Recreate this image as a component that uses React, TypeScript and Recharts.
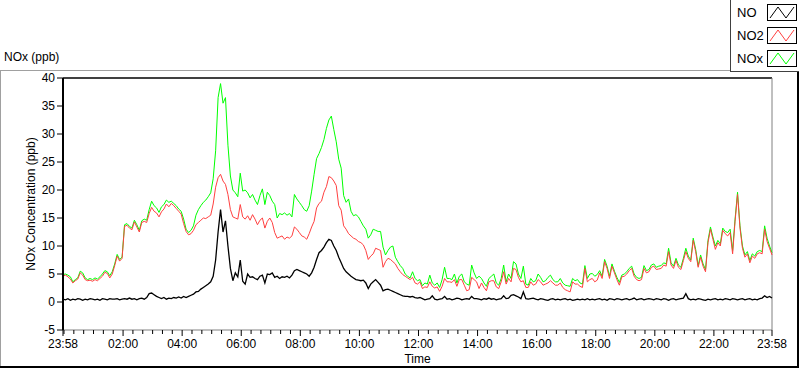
import { LineChart, Line, XAxis, YAxis, ReferenceLine } from "recharts";

// minutes after 23:58, one value every 5 min (12 per row = 1 hour)
const STEP_MIN = 5;

const noValues = [
  0.5, 0.4, 0.6, 0.3, 0.5, 0.4, 0.6, 0.5, 0.3, 0.5, 0.4, 0.6,
  0.5, 0.4, 0.5, 0.3, 0.6, 0.5, 0.4, 0.6, 0.5, 0.5, 0.6, 0.4,
  0.5, 0.6, 0.5, 0.7, 0.5, 0.6, 0.4, 0.6, 0.7, 0.5, 0.8, 1.5,
  1.6, 1.3, 1.0, 0.8, 0.6, 0.8, 0.5, 0.7, 0.6, 0.8, 0.7, 0.9,
  0.7, 1.0, 0.8, 1.0, 1.2, 1.4, 1.8, 1.9, 2.3, 2.6, 2.9, 3.2,
  3.6, 4.6, 7.5, 12.5, 16.5, 12.5, 14.5, 10.0, 6.0, 3.8, 5.2, 4.5,
  7.5, 3.7, 3.2, 5.0, 4.4, 4.5, 4.2, 4.0, 4.6, 4.8, 3.4, 5.0,
  4.9, 5.2, 4.4, 4.6, 4.2, 4.5, 4.4, 4.6, 4.3, 4.8, 5.6, 5.8,
  5.6, 5.4, 5.2, 5.0, 4.6, 5.2, 6.2, 7.6, 8.8, 9.2, 9.8, 10.6,
  11.2, 11.0, 10.0, 9.2, 8.0, 7.0, 6.0, 5.4, 5.0, 4.6, 4.3, 4.0,
  3.9, 3.8, 3.9, 3.4, 2.4, 3.2, 3.6, 4.0, 3.5, 3.0, 2.0, 2.2,
  2.3, 2.1, 1.9, 1.7, 1.5, 1.3, 1.1, 1.0, 1.0, 0.9, 1.0, 0.8,
  0.7, 0.8, 0.6, 0.4, 0.5, 0.6, 1.1, 0.5, 0.4, 0.5, 0.6, 1.0,
  0.5, 0.6, 0.4, 0.5, 0.7, 0.6, 0.4, 0.5, 0.6, 0.5, 1.0, 0.6,
  0.6, 0.5, 0.4, 0.6, 0.5, 0.7, 0.5, 0.6, 0.4, 0.5, 0.6, 1.1,
  0.6, 0.7, 1.2, 1.3, 1.1, 0.9, 0.6, 1.8, 0.6, 0.5, 0.6, 0.7,
  0.5, 0.4, 0.6, 0.5, 0.4, 0.3, 0.5, 0.6, 0.4, 0.5, 0.4, 0.5,
  0.6, 0.4, 0.5, 0.3, 0.4, 0.5, 0.4, 0.5, 0.4, 0.6, 0.4, 0.5,
  0.4, 0.5, 0.6, 0.4, 0.5, 0.3, 0.6, 0.5, 0.4, 0.6, 0.5, 0.4,
  0.5, 0.6, 0.4, 0.5, 0.7, 0.4, 0.5, 0.6, 0.4, 0.5, 0.6, 0.5,
  0.4, 0.6, 0.5, 0.4, 0.6, 0.5, 0.3, 0.5, 0.6, 0.4, 0.5, 0.6,
  0.7, 1.5, 0.6, 0.4, 0.5, 0.4, 0.6, 0.5, 0.4, 0.3, 0.5, 0.4,
  0.5, 0.6, 0.4, 0.5, 0.4, 0.6, 0.5, 0.4, 0.6, 0.5, 0.4, 0.5,
  0.6, 0.4, 0.5, 0.6, 0.4, 0.5, 0.4, 0.6, 0.7, 1.1, 0.8, 1.0,
  0.7,
];

const no2Values = [
  4.6, 4.8, 4.5, 4.1, 3.4, 3.8, 4.1, 5.2, 4.8, 4.0, 3.8, 3.9,
  3.7, 4.0, 3.8, 4.2, 4.6, 5.3, 5.1, 4.3, 5.0, 6.5, 8.2, 7.3,
  7.8, 13.5, 13.7, 13.2, 12.9, 14.3, 13.4, 12.5, 14.2, 14.4, 14.2, 15.8,
  16.9, 16.2, 15.9, 15.2, 16.1, 16.6, 17.5, 17.0, 17.6, 17.2, 16.7, 16.2,
  15.7, 14.0, 12.6, 12.0, 12.2, 12.8, 13.8, 14.2, 14.6, 15.0, 14.9, 15.2,
  15.5, 17.5, 20.5, 22.2, 22.8, 21.6, 21.0, 19.2, 16.5, 15.2, 15.0, 14.8,
  17.4, 15.2, 14.8, 15.4, 14.6, 15.6, 14.8, 13.8, 14.6, 15.0, 13.2, 14.4,
  15.0, 14.2, 12.4, 11.4, 11.6, 11.8, 11.2, 11.6, 11.4, 11.8, 13.4, 13.0,
  12.4, 11.8, 11.6, 11.2, 12.2, 13.4, 14.4, 16.8, 17.6, 18.0, 19.6, 20.6,
  22.4, 22.2, 21.6, 20.8, 17.2, 16.4, 13.6, 13.0, 12.2, 11.8, 11.4, 11.2,
  10.8, 10.6, 10.2, 9.2, 7.6, 8.2, 8.6, 9.6, 9.4, 9.2, 6.2, 7.2,
  7.8, 7.6, 7.2, 6.8, 6.0, 5.4, 4.9, 4.6, 4.3, 4.0, 4.4, 3.4,
  3.2, 3.6, 2.4, 2.7, 2.6, 3.6, 2.8, 2.5, 2.7, 1.9, 2.8, 4.2,
  3.6, 3.6, 3.5, 4.0, 2.8, 4.0, 4.0, 3.0, 2.0, 2.2, 4.4, 4.0,
  3.6, 2.4, 3.4, 2.6, 2.0, 3.6, 3.8, 3.8, 2.7, 2.4, 3.6, 5.4,
  3.2, 4.2, 3.6, 6.0, 5.8, 4.4, 3.6, 3.8, 2.6, 2.6, 3.6, 3.0,
  3.2, 4.0, 3.6, 3.0, 3.2, 3.4, 3.8, 3.4, 3.0, 3.0, 3.4, 2.6,
  2.2, 2.0, 1.8, 3.6, 3.2, 3.2, 2.8, 2.6, 6.0, 3.6, 4.0, 4.2,
  3.6, 3.9, 5.2, 4.2, 7.2, 6.0, 4.2, 6.4, 5.2, 4.0, 3.0, 4.5,
  4.6, 5.0, 5.6, 6.0, 4.6, 4.0, 3.8, 4.0, 6.0, 5.2, 5.4, 6.2,
  6.4, 5.8, 5.9, 6.0, 6.6, 6.4, 9.0, 6.6, 6.0, 7.4, 6.2, 5.8,
  7.4, 9.0, 7.8, 7.2, 11.0, 9.0, 6.2, 8.0, 6.4, 5.4, 10.6, 13.0,
  11.2, 9.4, 10.6, 10.0, 12.8, 12.2, 11.8, 12.4, 8.6, 14.4, 19.2, 13.2,
  9.6, 8.0, 8.6, 7.0, 8.2, 7.8, 8.6, 8.8, 8.6, 13.0, 10.8, 9.6,
  8.4,
];

const noxValues = [
  4.9, 5.0, 4.8, 4.5, 3.6, 4.0, 4.3, 5.5, 5.2, 4.3, 4.0, 4.2,
  4.0, 4.3, 4.1, 4.5, 5.0, 5.6, 5.4, 4.7, 5.4, 6.8, 8.5, 7.6,
  8.0, 13.8, 14.0, 13.5, 13.2, 14.6, 13.8, 12.8, 14.5, 14.8, 14.6, 16.5,
  18.0, 17.2, 16.8, 16.0, 17.0, 17.4, 18.2, 17.8, 18.0, 17.6, 17.2, 16.6,
  16.2, 14.8, 13.0, 12.4, 12.8, 13.6, 15.5, 16.5, 17.2, 17.8, 18.2, 18.8,
  19.5, 22.0, 27.0, 36.5, 39.0, 35.5, 36.5, 28.0, 22.5, 20.0, 19.5, 18.8,
  23.0, 19.8, 20.0, 19.5, 18.6, 19.2, 18.2, 17.4, 19.0, 20.2, 17.4, 19.6,
  19.0, 18.0, 17.4, 15.0, 15.8, 15.6, 15.9, 15.5, 15.8, 15.2, 19.2, 18.4,
  17.8, 17.2, 16.5, 16.2, 17.2, 19.8, 22.8, 25.6, 26.5, 27.6, 29.0, 31.0,
  32.5, 33.2, 30.8, 28.6, 25.5, 23.9, 19.0, 17.8, 18.4, 16.2, 15.4, 15.6,
  15.2, 14.4, 13.6, 13.0, 11.4, 12.0, 13.0, 12.8, 12.6, 12.6, 9.8, 8.4,
  9.2, 9.8, 10.0, 8.0, 7.2, 6.5, 6.0, 5.0, 4.6, 4.3, 5.4, 4.2,
  3.8, 4.0, 2.9, 3.4, 3.2, 4.8, 3.4, 3.0, 3.4, 2.6, 4.0, 6.2,
  4.2, 4.2, 4.0, 5.0, 3.4, 4.6, 5.0, 3.6, 3.2, 3.0, 6.6, 5.2,
  4.2, 4.6, 4.2, 3.4, 2.8, 4.2, 4.6, 5.0, 3.4, 3.0, 4.2, 6.6,
  3.6, 5.0, 4.2, 7.2, 6.8, 5.0, 4.2, 6.4, 3.2, 3.0, 4.2, 3.6,
  3.8, 5.0, 4.4, 3.6, 3.8, 4.4, 4.8, 4.0, 3.6, 3.6, 4.2, 3.4,
  3.0, 2.9, 2.8, 4.2, 3.8, 4.0, 3.4, 3.2, 6.5, 4.2, 5.0, 5.1,
  4.6, 4.9, 5.6, 4.6, 7.6, 6.4, 4.6, 6.8, 5.5, 4.4, 3.5, 4.8,
  5.0, 5.4, 6.0, 6.4, 5.0, 4.4, 4.2, 4.4, 6.5, 5.6, 5.8, 6.6,
  6.8, 6.2, 6.4, 6.5, 7.0, 6.8, 9.6, 7.0, 6.4, 7.8, 6.6, 6.2,
  7.8, 9.6, 8.2, 7.5, 11.4, 9.4, 6.5, 8.4, 6.8, 5.8, 11.0, 13.4,
  11.6, 10.0, 11.0, 10.4, 13.2, 12.6, 12.4, 13.0, 9.2, 14.8, 19.6, 13.6,
  10.0, 8.4, 9.0, 7.4, 8.6, 8.2, 9.0, 9.2, 9.0, 13.6, 11.4, 10.0,
  8.8,
];

const majorTicks = [0, 122, 242, 362, 482, 602, 722, 842, 962, 1082, 1202, 1322, 1440];
const majorLabels = ["23:58", "02:00", "04:00", "06:00", "08:00", "10:00", "12:00", "14:00", "16:00", "18:00", "20:00", "22:00", "23:58"];
const yTicks = [-5, 0, 5, 10, 15, 20, 25, 30, 35, 40];

const seriesNames = ["NO", "NO2", "NOx"];
const seriesColors = ["#000000", "#ff4040", "#00ff00"];

// minor ticks every 20 min on the clock (00:00 is 2 min after start)
const minorTicks: number[] = [];
for (let t = 2; t < 1440; t += 20) minorTicks.push(t);
const allTicks = Array.from(new Set([...majorTicks, ...minorTicks])).sort((a, b) => a - b);

const data = noValues.map((v, i) => ({
  t: i * STEP_MIN,
  NO: v,
  NO2: no2Values[i],
  NOx: noxValues[i],
}));

const FONT = "'Liberation Sans', Arial, sans-serif";

const XTick = ({ x, y, payload }: any) => {
  const idx = majorTicks.indexOf(payload.value);
  const major = idx >= 0;
  return (
    <g>
      <line x1={x} x2={x} y1={y} y2={y + (major ? 6 : 4)} stroke="#000" strokeWidth={1} />
      {major && (
        <text x={x} y={y + 18} textAnchor="middle" fontSize={12} fontFamily={FONT} fill="#000">
          {majorLabels[idx]}
        </text>
      )}
    </g>
  );
};

function LegendBox() {
  return (
    <div
      style={{
        position: "absolute",
        left: 730,
        top: 0,
        width: 68,
        height: 71,
        borderLeft: "1px solid #404040",
        borderBottom: "1px solid #404040",
        background: "#fff",
        fontFamily: FONT,
        fontSize: 13,
      }}
    >
      {seriesNames.map((name, i) => (
        <div key={name} style={{ position: "absolute", left: 0, top: 4 + i * 23, width: 68, height: 18 }}>
          <span style={{ position: "absolute", left: 6, top: 1 }}>{name}</span>
          <svg width={31} height={18} style={{ position: "absolute", left: 36, top: 0 }}>
            <rect x={0.5} y={0.5} width={29} height={16} fill="#fff" stroke="#000" />
            <polyline points="3,14 11,3 19,14 27,3" fill="none" stroke={seriesColors[i]} strokeWidth={1} />
          </svg>
        </div>
      ))}
    </div>
  );
}

export default function App() {
  return (
    <div style={{ position: "absolute", left: 0, top: 0, width: 800, height: 369, background: "#fff", fontFamily: FONT }}>
      {/* panel frame */}
      <div style={{ position: "absolute", left: 0, top: 70, width: 730, height: 1, background: "#a0a0a0" }} />
      <div style={{ position: "absolute", left: 0, top: 70, width: 1, height: 297, background: "#a0a0a0" }} />
      <div style={{ position: "absolute", left: 0, top: 366, width: 799, height: 2, background: "#000" }} />
      <div style={{ position: "absolute", left: 797, top: 71, width: 2, height: 297, background: "#000" }} />
      <LegendBox />
      <div style={{ position: "absolute", left: 4, top: 50, fontSize: 12, color: "#000" }}>NOx (ppb)</div>

      <LineChart
        width={800}
        height={369}
        data={data}
        margin={{ top: 78, right: 28, bottom: 0, left: 0 }}
        style={{ position: "absolute", left: 0, top: 0 }}
      >
        <XAxis
          dataKey="t"
          type="number"
          domain={[0, 1440]}
          ticks={allTicks}
          interval={0}
          tickLine={false}
          tickSize={0}
          tickMargin={0}
          tick={<XTick />}
          height={39}
          axisLine={{ stroke: "#808080" }}
          label={{ value: "Time", position: "insideBottom", offset: 6, fontSize: 12, fill: "#000", fontFamily: FONT }}
        />
        <YAxis
          type="number"
          domain={[-5, 40]}
          ticks={yTicks}
          interval={0}
          width={63}
          tickSize={6}
          tickMargin={2}
          tickLine={{ stroke: "#000" }}
          axisLine={{ stroke: "#000", strokeWidth: 2 }}
          tick={{ fontSize: 12, fill: "#000", fontFamily: FONT }}
          label={{
            value: "NOx Concentration (ppb)",
            angle: -90,
            position: "insideLeft",
            offset: 31,
            style: { textAnchor: "middle", fontSize: 12, fill: "#000", fontFamily: FONT },
          }}
        />
        <ReferenceLine y={40} stroke="#000" strokeWidth={1.5} ifOverflow="extendDomain" />
        <ReferenceLine x={1440} stroke="#808080" strokeWidth={1} />
        <Line dataKey="NOx" stroke={seriesColors[2]} strokeWidth={1} dot={false} isAnimationActive={false} />
        <Line dataKey="NO2" stroke={seriesColors[1]} strokeWidth={1} dot={false} isAnimationActive={false} />
        <Line dataKey="NO" stroke={seriesColors[0]} strokeWidth={1.3} dot={false} isAnimationActive={false} />
      </LineChart>
    </div>
  );
}
